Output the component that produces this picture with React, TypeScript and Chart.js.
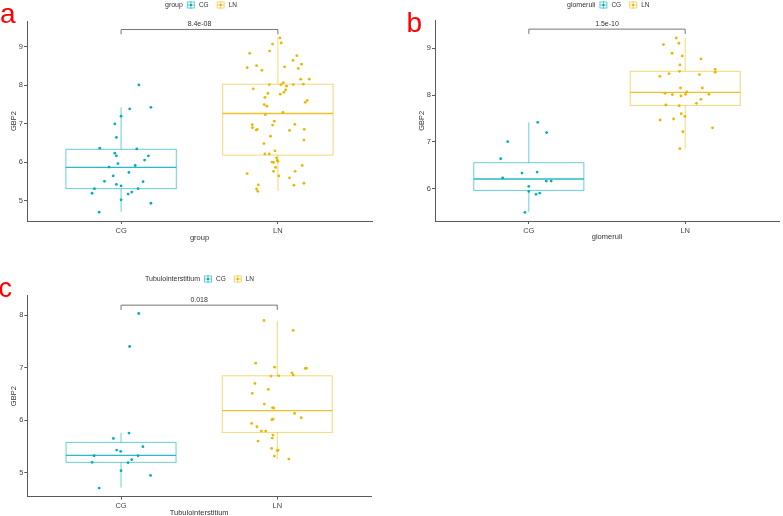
import React, { useEffect, useRef } from 'react';
import { Chart, registerables } from 'chart.js';

Chart.register(...registerables);

const FONT = '"Liberation Sans", Arial, sans-serif';
const categories = ['CG', 'LN'];
const groupColors = ['#00AFBB', '#E7B800'];
const groupBoxColors = ['rgba(0,175,187,0.6)', 'rgba(231,184,0,0.55)'];

// ---------- Panel a (group) ----------
const aCGValues = [8.01, 7.43, 7.39, 7.2, 7.0, 6.65, 6.37, 6.35, 6.24, 6.17, 6.17, 6.06, 5.97, 5.88, 5.92, 5.74, 5.65, 5.51, 5.5, 5.43, 5.39, 5.32, 5.32, 5.23, 5.18, 5.2, 5.03, 4.94, 4.71];
const aCGJitter = [0.113, 0.19, 0.055, 0, -0.04, -0.03, -0.136, 0.1, -0.04, -0.03, 0.174, 0.15, -0.02, -0.077, 0.09, 0.05, -0.05, -0.106, 0.14, -0.03, 0, -0.17, 0.108, 0.068, 0.045, -0.185, 0, 0.19, -0.14];
const aLNValues = [9.23, 9.07, 9.1, 8.83, 8.89, 8.77, 8.65, 8.55, 8.46, 8.51, 8.39, 8.48, 8.44, 8.16, 8.16, 8.07, 8.02, 8.02, 8.02, 8.03, 7.98, 7.91, 7.88, 7.82, 7.79, 7.77, 7.69, 7.61, 7.56, 7.5, 7.46, 7.3, 7.24, 7.07, 6.99, 6.97, 6.98, 6.9, 6.86, 6.84, 6.83, 6.86, 6.68, 6.58, 6.49, 6.3, 6.22, 6.22, 6.12, 6.05, 6.01, 6.0, 6.03, 5.92, 5.87, 5.77, 5.77, 5.71, 5.65, 5.6, 5.46, 5.41, 5.42, 5.31, 5.25];
const aLNJitter = [0.013, -0.034, 0.021, -0.18, -0.053, 0.121, 0.096, 0.151, -0.196, -0.136, -0.102, 0.043, 0.13, 0.145, 0.2, 0.034, 0.019, -0.055, 0.098, 0.162, 0.055, -0.157, 0.049, 0.038, -0.064, 0.015, -0.083, 0.187, 0.174, -0.087, -0.07, 0.032, -0.08, -0.023, 0.108, -0.034, -0.164, -0.162, -0.132, -0.138, 0.074, 0.168, -0.047, 0.166, -0.089, -0.019, -0.083, -0.055, -0.009, -0.004, -0.038, -0.028, 0, 0.155, -0.015, 0.11, -0.028, -0.196, 0.006, 0.074, 0.166, 0.102, -0.125, -0.136, -0.128];
// [lower whisker, Q1, median, Q3, upper whisker]
const aCGBox = [4.72, 5.32, 5.87, 6.34, 7.43];
const aLNBox = [5.26, 6.19, 7.27, 8.03, 9.24];
const aYTicks = [5, 6, 7, 8, 9];
const aPLabel = '8.4e-08';
const aBracketY = 9.45;

// ---------- Panel b (glomeruli) ----------
const bCGValues = [7.418, 7.2, 7.005, 6.64, 6.23, 6.335, 6.356, 6.164, 6.164, 6.05, 5.943, 5.907, 5.88, 5.494];
const bCGJitter = [0.057, 0.114, -0.135, -0.18, -0.167, -0.044, 0.053, 0.112, 0.143, 0, 0, 0.07, 0.046, -0.025];
const bLNValues = [9.22, 9.079, 9.108, 8.894, 8.837, 8.773, 8.644, 8.552, 8.488, 8.509, 8.459, 8.438, 8.402, 8.152, 8.152, 8.067, 8.017, 8.038, 8.01, 7.981, 8.017, 7.91, 7.825, 7.789, 7.775, 7.604, 7.547, 7.49, 7.468, 7.3, 7.219, 6.855];
const bLNJitter = [-0.057, -0.139, -0.04, -0.084, -0.019, 0.101, -0.034, 0.192, 0.192, -0.036, -0.103, 0.091, -0.162, -0.03, 0.11, 0.01, 0.002, -0.129, -0.082, -0.027, 0.152, 0.101, 0.072, -0.124, -0.038, -0.025, -0.002, -0.074, -0.16, 0.175, -0.015, -0.034];
const bCGBox = [5.508, 5.964, 6.207, 6.556, 7.418];
const bLNBox = [6.855, 7.78, 8.06, 8.509, 9.22];
const bYTicks = [6, 7, 8, 9];
const bPLabel = '1.5e-10';
const bBracketY = 9.41;

// ---------- Panel c (Tubulointerstitium) ----------
const cCGValues = [8.031, 7.403, 5.755, 5.653, 5.495, 5.431, 5.406, 5.323, 5.323, 5.247, 5.19, 5.197, 5.038, 4.949, 4.708];
const cCGJitter = [0.113, 0.055, 0.051, -0.049, 0.14, -0.028, -0.002, -0.172, 0.109, 0.068, 0.045, -0.185, 0, 0.189, -0.14];
const cLNValues = [7.898, 7.708, 7.086, 7.01, 6.991, 6.985, 6.902, 6.858, 6.839, 6.845, 6.699, 6.585, 6.509, 6.306, 6.237, 6.23, 6.129, 6.046, 6.021, 6.008, 5.938, 5.875, 5.793, 5.793, 5.717, 5.66, 5.602, 5.463, 5.431, 5.419, 5.317, 5.26];
const cLNJitter = [-0.085, 0.102, -0.138, -0.017, 0.187, 0.179, 0.094, 0.102, -0.04, 0.009, -0.143, -0.057, -0.16, -0.083, -0.03, -0.023, 0.111, 0.153, -0.026, -0.034, -0.164, -0.13, -0.102, -0.074, -0.028, -0.032, -0.123, -0.036, 0.006, 0, -0.019, 0.074];
const cCGBox = [4.715, 5.197, 5.33, 5.577, 5.761];
const cLNBox = [5.26, 5.767, 6.18, 6.845, 7.89];
const cYTicks = [5, 6, 7, 8];
const cPLabel = '0.018';
const cBracketY = 8.19;

type PanelCfg = {
  letter: string;
  legendTitle: string;
  xTitle: string;
  values: number[][];
  jitter: number[][];
  boxes: number[][];
  yTicks: number[];
  pLabel: string;
  bracketY: number;
  yMin: number;
  yMax: number;
  // layout
  left: number;
  top: number;
  width: number;
  height: number;
  padTop: number;
  padRight: number;
  yAxisWidth: number;
  xAxisHeight: number;
  yTitlePad: number;
  xTitlePad: number;
  legendX: number;
  legendY: number;
  letterX: number;
  letterY: number;
  letterSize: number;
};

const panels: PanelCfg[] = [
  {
    letter: 'a', legendTitle: 'group', xTitle: 'group',
    values: [aCGValues, aLNValues], jitter: [aCGJitter, aLNJitter], boxes: [aCGBox, aLNBox],
    yTicks: aYTicks, pLabel: aPLabel, bracketY: aBracketY, yMin: 4.48, yMax: 9.67,
    left: 0, top: 0, width: 380, height: 250, padTop: 21, padRight: 8,
    yAxisWidth: 27, xAxisHeight: 29, yTitlePad: 9.5, xTitlePad: 7.2,
    legendX: 165, legendY: 5, letterX: 0, letterY: 23, letterSize: 28,
  },
  {
    letter: 'b', legendTitle: 'glomeruli', xTitle: 'glomeruli',
    values: [bCGValues, bLNValues], jitter: [bCGJitter, bLNJitter], boxes: [bCGBox, bLNBox],
    yTicks: bYTicks, pLabel: bPLabel, bracketY: bBracketY, yMin: 5.31, yMax: 9.59,
    left: 390, top: 0, width: 393, height: 250, padTop: 20.7, padRight: 1,
    yAxisWidth: 45, xAxisHeight: 29, yTitlePad: 27.8, xTitlePad: 8.2,
    legendX: 177, legendY: 5, letterX: 16.5, letterY: 31.5, letterSize: 28,
  },
  {
    letter: 'c', legendTitle: 'Tubulointerstitium', xTitle: 'Tubulointerstitium',
    values: [cCGValues, cLNValues], jitter: [cCGJitter, cLNJitter], boxes: [cCGBox, cLNBox],
    yTicks: cYTicks, pLabel: cPLabel, bracketY: cBracketY, yMin: 4.543, yMax: 8.37,
    left: 0, top: 250, width: 380, height: 270, padTop: 45.7, padRight: 9,
    yAxisWidth: 27.3, xAxisHeight: 23.3, yTitlePad: 9.5, xTitlePad: 2.2,
    legendX: 145, legendY: 29, letterX: -1.5, letterY: 47, letterSize: 27,
  },
];

const BOX_HALF = 0.352;

function drawKey(ctx: CanvasRenderingContext2D, x: number, y: number, i: number) {
  ctx.save();
  ctx.strokeStyle = groupBoxColors[i];
  ctx.lineWidth = 1;
  ctx.strokeRect(x + 0.5, y - 3, 7, 6);
  ctx.beginPath();
  ctx.moveTo(x + 0.5, y);
  ctx.lineTo(x + 7.5, y);
  ctx.moveTo(x + 4, y - 4);
  ctx.lineTo(x + 4, y + 4);
  ctx.stroke();
  ctx.fillStyle = groupColors[i];
  ctx.beginPath();
  ctx.arc(x + 4, y, 1.2, 0, Math.PI * 2);
  ctx.fill();
  ctx.restore();
}

function makePlugin(cfg: PanelCfg) {
  return {
    id: 'boxplotDecor',
    beforeDatasetsDraw(chart: any) {
      const { ctx, scales } = chart;
      const xs = scales.x;
      const ys = scales.y;
      cfg.boxes.forEach((b, i) => {
        const cx = xs.getPixelForValue(i + 1);
        const x0 = xs.getPixelForValue(i + 1 - BOX_HALF);
        const x1 = xs.getPixelForValue(i + 1 + BOX_HALF);
        const [lo, q1, med, q3, hi] = b.map((v) => ys.getPixelForValue(v));
        ctx.save();
        ctx.strokeStyle = groupBoxColors[i];
        ctx.lineWidth = 1;
        ctx.beginPath();
        ctx.moveTo(cx, q3);
        ctx.lineTo(cx, hi);
        ctx.moveTo(cx, q1);
        ctx.lineTo(cx, lo);
        ctx.stroke();
        ctx.strokeRect(x0, q3, x1 - x0, q1 - q3);
        ctx.strokeStyle = groupColors[i];
        ctx.globalAlpha = 0.85;
        ctx.lineWidth = 1.3;
        ctx.beginPath();
        ctx.moveTo(x0, med);
        ctx.lineTo(x1, med);
        ctx.stroke();
        ctx.restore();
      });
    },
    afterDraw(chart: any) {
      const { ctx, scales } = chart;
      const xs = scales.x;
      const ys = scales.y;
      // significance bracket
      const xa = xs.getPixelForValue(1);
      const xb = xs.getPixelForValue(2);
      const yb = ys.getPixelForValue(cfg.bracketY);
      const tip = ys.getPixelForValue(cfg.bracketY - 0.024 * (cfg.yMax - cfg.yMin)) - yb;
      ctx.save();
      ctx.strokeStyle = '#777';
      ctx.lineWidth = 1;
      ctx.beginPath();
      ctx.moveTo(xa, yb + tip);
      ctx.lineTo(xa, yb);
      ctx.lineTo(xb, yb);
      ctx.lineTo(xb, yb + tip);
      ctx.stroke();
      ctx.fillStyle = '#333';
      ctx.font = `7px ${FONT}`;
      ctx.textAlign = 'center';
      ctx.textBaseline = 'bottom';
      ctx.fillText(cfg.pLabel, (xa + xb) / 2, yb - 1.5);
      // legend
      ctx.textAlign = 'left';
      ctx.textBaseline = 'middle';
      ctx.font = `7px ${FONT}`;
      let x = cfg.legendX;
      ctx.fillText(cfg.legendTitle, x, cfg.legendY);
      x += ctx.measureText(cfg.legendTitle).width + 4;
      categories.forEach((c, i) => {
        drawKey(ctx, x, cfg.legendY, i);
        x += 12;
        ctx.fillStyle = '#333';
        ctx.font = `6.5px ${FONT}`;
        ctx.fillText(c, x, cfg.legendY);
        x += ctx.measureText(c).width + 8;
      });
      // panel letter
      ctx.fillStyle = '#FF0000';
      ctx.font = `${cfg.letterSize}px ${FONT}`;
      ctx.textBaseline = 'alphabetic';
      ctx.fillText(cfg.letter, cfg.letterX, cfg.letterY);
      ctx.restore();
    },
  };
}

function Panel({ cfg }: { cfg: PanelCfg }) {
  const ref = useRef<HTMLCanvasElement | null>(null);
  useEffect(() => {
    if (!ref.current) return;
    const datasets = cfg.values.map((vals, gi) => ({
      label: categories[gi],
      data: vals.map((v, k) => ({ x: gi + 1 + cfg.jitter[gi][k], y: v })),
      pointRadius: 1.4,
      pointBorderWidth: 0,
      backgroundColor: groupColors[gi],
      borderColor: groupColors[gi],
    }));
    const axisColor = '#5a5a5a';
    const chart = new Chart(ref.current, {
      type: 'scatter',
      data: { datasets },
      plugins: [makePlugin(cfg)],
      options: {
        animation: false,
        responsive: false,
        maintainAspectRatio: false,
        layout: { padding: { top: cfg.padTop, right: cfg.padRight, left: 0, bottom: 0 } },
        plugins: { legend: { display: false }, tooltip: { enabled: false } },
        scales: {
          x: {
            type: 'linear',
            min: 0.4,
            max: 2.6,
            afterBuildTicks: (s: any) => {
              s.ticks = categories.map((_, i) => ({ value: i + 1 }));
            },
            afterFit: (s: any) => {
              s.height = cfg.xAxisHeight;
            },
            ticks: {
              callback: (v: any) => categories[Math.round(Number(v)) - 1] ?? '',
              font: { size: 7.5, family: FONT },
              color: '#444',
              padding: 2,
              maxRotation: 0,
              autoSkip: false,
            },
            grid: { drawOnChartArea: false, drawTicks: true, tickLength: 3, color: axisColor },
            border: { display: true, color: axisColor, width: 1 },
            title: {
              display: true,
              text: cfg.xTitle,
              font: { size: 7.5, family: FONT },
              color: '#333',
              padding: { top: 0, bottom: cfg.xTitlePad },
            },
          },
          y: {
            type: 'linear',
            min: cfg.yMin,
            max: cfg.yMax,
            afterBuildTicks: (s: any) => {
              s.ticks = cfg.yTicks.map((v) => ({ value: v }));
            },
            afterFit: (s: any) => {
              s.width = cfg.yAxisWidth;
            },
            ticks: {
              font: { size: 7.5, family: FONT },
              color: '#444',
              padding: 1,
            },
            grid: { drawOnChartArea: false, drawTicks: true, tickLength: 3, color: axisColor },
            border: { display: true, color: axisColor, width: 1 },
            title: {
              display: true,
              text: 'GBP2',
              font: { size: 7.5, family: FONT },
              color: '#333',
              padding: { top: cfg.yTitlePad, bottom: 0 },
            },
          },
        },
      },
    } as any);
    return () => chart.destroy();
  }, [cfg]);
  return (
    <canvas
      ref={ref}
      width={cfg.width}
      height={cfg.height}
      style={{ position: 'absolute', left: cfg.left, top: cfg.top, width: cfg.width, height: cfg.height }}
    />
  );
}

export default function App() {
  return (
    <div
      style={{
        position: 'fixed',
        left: 0,
        top: 0,
        width: 783,
        height: 516,
        overflow: 'hidden',
        background: '#ffffff',
      }}
    >
      {panels.map((p) => (
        <Panel key={p.letter} cfg={p} />
      ))}
    </div>
  );
}
